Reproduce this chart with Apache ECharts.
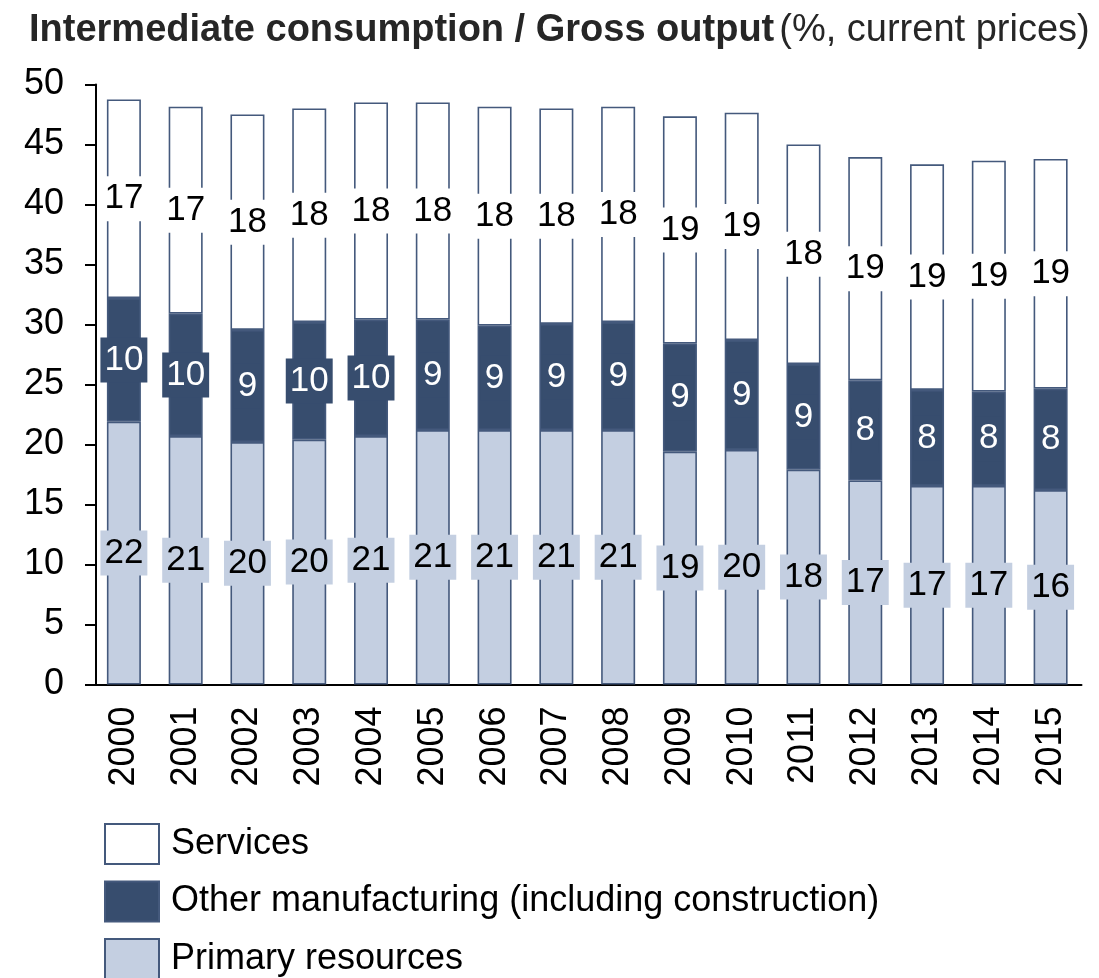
<!DOCTYPE html>
<html>
<head>
<meta charset="utf-8">
<script src="https://cdn.jsdelivr.net/npm/echarts@6/dist/echarts.min.js"></script>
<style>
html,body{margin:0;padding:0;background:#fff;}
#chart{width:1099px;height:978px;}
</style>
</head>
<body>
<div id="chart"></div>
<script>
const years = ['2000','2001','2002','2003','2004','2005','2006','2007','2008','2009','2010','2011','2012','2013','2014','2015'];
const primary = [21.9, 20.7, 20.2, 20.4, 20.7, 21.2, 21.2, 21.2, 21.2, 19.4, 19.55, 17.9, 17.0, 16.55, 16.55, 16.2];
const manufacturing = [10.3, 10.2, 9.35, 9.8, 9.7, 9.2, 8.7, 8.85, 9.0, 9.0, 9.15, 8.8, 8.35, 8.0, 7.85, 8.45];
const services = [16.55, 17.25, 17.95, 17.8, 18.1, 18.1, 18.25, 17.95, 17.95, 18.95, 18.95, 18.3, 18.6, 18.8, 19.25, 19.15];
const yTicks = [0, 5, 10, 15, 20, 25, 30, 35, 40, 45, 50];

const NAVY = '#374d6e';
const LIGHT = '#c4cfe1';
const BORDER = '#44597c';
const FONT = '"Liberation Sans", Arial, sans-serif';

function mkLabel(bg, color) {
  return {
    show: true,
    position: 'inside',
    formatter: p => String(Math.round(p.value)),
    fontFamily: FONT,
    fontSize: 35,
    lineHeight: 35,
    color: color,
    backgroundColor: bg,
    padding: [5, 4, 5, 4]
  };
}

const chart = echarts.init(document.getElementById('chart'), null, {renderer: 'canvas'});
chart.setOption({
  animation: false,
  backgroundColor: '#fff',
  title: {
    left: 29,
    top: 7,
    padding: 0,
    text: '{b|Intermediate consumption / Gross output} {n|(%, current prices)}',
    textStyle: {
      rich: {
        b: {fontFamily: FONT, fontSize: 38, lineHeight: 48, fontWeight: 'bold', color: '#262626'},
        n: {fontFamily: FONT, fontSize: 38, lineHeight: 48, fontWeight: 'normal', color: '#262626'}
      }
    }
  },
  legend: {
    orient: 'vertical',
    left: 104,
    top: 823,
    padding: 0,
    height: 200,
    itemWidth: 54,
    itemHeight: 40,
    itemGap: 15.5,
    icon: 'rect',
    selectedMode: false,
    data: ['Services', 'Other manufacturing (including construction)', 'Primary resources'],
    textStyle: {fontFamily: FONT, fontSize: 36, lineHeight: 30, color: '#000', padding: [10, 0, 0, 7]}
  },
  grid: {left: 93, top: 84.5, width: 988.5, height: 600, containLabel: false},
  xAxis: {
    type: 'category',
    data: years,
    axisLine: {lineStyle: {color: '#000', width: 2}},
    axisTick: {show: false},
    axisLabel: {rotate: 90, fontFamily: FONT, fontSize: 36, color: '#000', margin: 22, interval: 0}
  },
  yAxis: {
    type: 'value',
    min: 0,
    max: 50,
    interval: 5,
    offset: -3,
    axisLine: {show: true, lineStyle: {color: '#000', width: 2}},
    axisTick: {show: true, length: 11, lineStyle: {color: '#000', width: 2}},
    splitLine: {show: false},
    axisLabel: {fontFamily: FONT, fontSize: 36, color: '#000', margin: 32,
      formatter: v => yTicks.includes(v) ? String(v) : ''}
  },
  series: [
    {
      name: 'Primary resources', type: 'bar', stack: 's', data: primary, barWidth: 34,
      itemStyle: {color: LIGHT, borderColor: BORDER, borderWidth: 1.6},
      label: mkLabel(LIGHT, '#000')
    },
    {
      name: 'Other manufacturing (including construction)', type: 'bar', stack: 's', data: manufacturing, barWidth: 34,
      itemStyle: {color: NAVY, borderColor: BORDER, borderWidth: 1.6},
      label: mkLabel(NAVY, '#fff')
    },
    {
      name: 'Services', type: 'bar', stack: 's', data: services, barWidth: 34,
      itemStyle: {color: '#fff', borderColor: BORDER, borderWidth: 1.6},
      label: mkLabel('#fff', '#000')
    }
  ]
});
</script>
</body>
</html>
